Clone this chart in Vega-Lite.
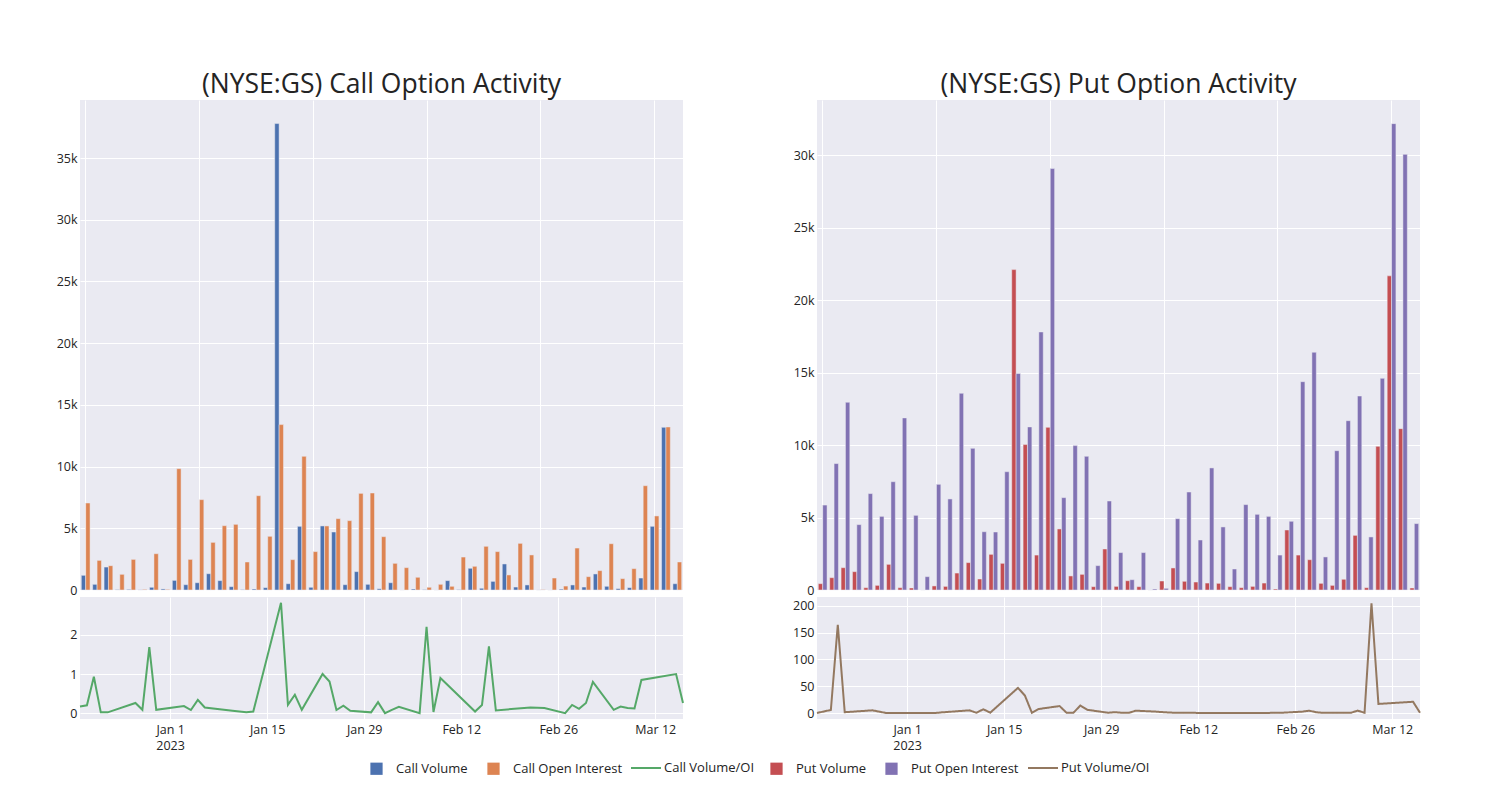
{
  "$schema": "https://vega.github.io/schema/vega-lite/v6.json",
  "background": "white",
  "padding": {"left": 56, "top": 71, "right": 5, "bottom": 5},
  "spacing": 105,
  "datasets": {
    "opt": [
      {"date":"2022-12-19","callVol":1190,"callOI":7050,"callRatio":0.17,"putVol":437,"putOI":5860,"putRatio":0},
      {"date":"2022-12-20","callVol":460,"callOI":2400,"callRatio":0.20,"putVol":850,"putOI":8720,"putRatio":3},
      {"date":"2022-12-21","callVol":1860,"callOI":1970,"callRatio":0.93,"putVol":1540,"putOI":12950,"putRatio":5.6},
      {"date":"2022-12-22","callVol":30,"callOI":1270,"callRatio":0.02,"putVol":1265,"putOI":4510,"putRatio":165},
      {"date":"2022-12-23","callVol":50,"callOI":2480,"callRatio":0.02,"putVol":160,"putOI":6650,"putRatio":1.5},
      {"date":"2022-12-27","callVol":12,"callOI":50,"callRatio":0.26,"putVol":320,"putOI":5080,"putRatio":5},
      {"date":"2022-12-28","callVol":220,"callOI":2940,"callRatio":0.085,"putVol":1770,"putOI":7470,"putRatio":2.5},
      {"date":"2022-12-29","callVol":85,"callOI":50,"callRatio":1.69,"putVol":160,"putOI":11870,"putRatio":0},
      {"date":"2022-12-30","callVol":780,"callOI":9830,"callRatio":0.085,"putVol":140,"putOI":5150,"putRatio":0},
      {"date":"2023-01-03","callVol":430,"callOI":2480,"callRatio":0.18,"putVol":0,"putOI":920,"putRatio":0},
      {"date":"2023-01-04","callVol":590,"callOI":7320,"callRatio":0.08,"putVol":280,"putOI":7290,"putRatio":0},
      {"date":"2023-01-05","callVol":1320,"callOI":3860,"callRatio":0.34,"putVol":250,"putOI":6280,"putRatio":0},
      {"date":"2023-01-06","callVol":760,"callOI":5210,"callRatio":0.145,"putVol":1170,"putOI":13570,"putRatio":1.2},
      {"date":"2023-01-10","callVol":270,"callOI":5320,"callRatio":0.06,"putVol":1890,"putOI":9770,"putRatio":5},
      {"date":"2023-01-11","callVol":30,"callOI":2270,"callRatio":0.04,"putVol":760,"putOI":4020,"putRatio":0.5},
      {"date":"2023-01-12","callVol":80,"callOI":7640,"callRatio":0.02,"putVol":2460,"putOI":4000,"putRatio":7},
      {"date":"2023-01-13","callVol":190,"callOI":4350,"callRatio":0.04,"putVol":1840,"putOI":8160,"putRatio":0.6},
      {"date":"2023-01-17","callVol":37790,"callOI":13400,"callRatio":2.82,"putVol":22100,"putOI":14930,"putRatio":47},
      {"date":"2023-01-18","callVol":510,"callOI":2460,"callRatio":0.21,"putVol":10030,"putOI":11250,"putRatio":32.5},
      {"date":"2023-01-19","callVol":5160,"callOI":10830,"callRatio":0.47,"putVol":2410,"putOI":17800,"putRatio":0.5},
      {"date":"2023-01-20","callVol":220,"callOI":3110,"callRatio":0.085,"putVol":11220,"putOI":29070,"putRatio":7.5},
      {"date":"2023-01-23","callVol":5190,"callOI":5190,"callRatio":1.0,"putVol":4210,"putOI":6370,"putRatio":13},
      {"date":"2023-01-24","callVol":4700,"callOI":5780,"callRatio":0.81,"putVol":970,"putOI":9960,"putRatio":0.5},
      {"date":"2023-01-25","callVol":430,"callOI":5620,"callRatio":0.08,"putVol":1080,"putOI":9220,"putRatio":0.5},
      {"date":"2023-01-26","callVol":1490,"callOI":7830,"callRatio":0.19,"putVol":230,"putOI":1680,"putRatio":14},
      {"date":"2023-01-27","callVol":460,"callOI":7860,"callRatio":0.06,"putVol":2830,"putOI":6140,"putRatio":6},
      {"date":"2023-01-30","callVol":100,"callOI":4320,"callRatio":0.02,"putVol":250,"putOI":2580,"putRatio":0.5},
      {"date":"2023-01-31","callVol":590,"callOI":2160,"callRatio":0.28,"putVol":640,"putOI":710,"putRatio":1.5},
      {"date":"2023-02-01","callVol":0,"callOI":1810,"callRatio":0.0,"putVol":230,"putOI":2580,"putRatio":0.5},
      {"date":"2023-02-02","callVol":80,"callOI":1030,"callRatio":0.085,"putVol":0,"putOI":70,"putRatio":0.3},
      {"date":"2023-02-03","callVol":30,"callOI":220,"callRatio":0.16,"putVol":620,"putOI":115,"putRatio":4.4},
      {"date":"2023-02-06","callVol":0,"callOI":460,"callRatio":0.0,"putVol":1520,"putOI":4920,"putRatio":2.5},
      {"date":"2023-02-07","callVol":760,"callOI":300,"callRatio":2.21,"putVol":600,"putOI":6760,"putRatio":1.5},
      {"date":"2023-02-08","callVol":30,"callOI":2670,"callRatio":0.03,"putVol":550,"putOI":3450,"putRatio":0.8},
      {"date":"2023-02-09","callVol":1760,"callOI":1920,"callRatio":0.9,"putVol":480,"putOI":8420,"putRatio":0.3},
      {"date":"2023-02-14","callVol":140,"callOI":3540,"callRatio":0.04,"putVol":460,"putOI":4350,"putRatio":0.2},
      {"date":"2023-02-15","callVol":700,"callOI":3110,"callRatio":0.21,"putVol":230,"putOI":1450,"putRatio":0.2},
      {"date":"2023-02-16","callVol":2110,"callOI":1220,"callRatio":1.71,"putVol":160,"putOI":5890,"putRatio":0.2},
      {"date":"2023-02-17","callVol":240,"callOI":3780,"callRatio":0.07,"putVol":250,"putOI":5220,"putRatio":0.2},
      {"date":"2023-02-22","callVol":410,"callOI":2840,"callRatio":0.145,"putVol":480,"putOI":5080,"putRatio":0.2},
      {"date":"2023-02-24","callVol":4,"callOI":30,"callRatio":0.13,"putVol":70,"putOI":2410,"putRatio":0.5},
      {"date":"2023-02-27","callVol":0,"callOI":970,"callRatio":0.0,"putVol":4140,"putOI":4740,"putRatio":2.5},
      {"date":"2023-02-28","callVol":70,"callOI":320,"callRatio":0.21,"putVol":2410,"putOI":14370,"putRatio":4.4},
      {"date":"2023-03-01","callVol":410,"callOI":3400,"callRatio":0.11,"putVol":2090,"putOI":16400,"putRatio":1.5},
      {"date":"2023-03-02","callVol":240,"callOI":1080,"callRatio":0.26,"putVol":460,"putOI":2280,"putRatio":0.3},
      {"date":"2023-03-03","callVol":1300,"callOI":1570,"callRatio":0.8,"putVol":320,"putOI":9610,"putRatio":0.3},
      {"date":"2023-03-06","callVol":300,"callOI":3750,"callRatio":0.085,"putVol":740,"putOI":11680,"putRatio":0.3},
      {"date":"2023-03-07","callVol":110,"callOI":920,"callRatio":0.17,"putVol":3770,"putOI":13380,"putRatio":4.4},
      {"date":"2023-03-08","callVol":190,"callOI":1730,"callRatio":0.13,"putVol":160,"putOI":3660,"putRatio":0.5},
      {"date":"2023-03-09","callVol":970,"callOI":8450,"callRatio":0.12,"putVol":9910,"putOI":14600,"putRatio":205},
      {"date":"2023-03-10","callVol":5160,"callOI":6000,"callRatio":0.85,"putVol":21670,"putOI":32170,"putRatio":17},
      {"date":"2023-03-15","callVol":13180,"callOI":13210,"callRatio":1.0,"putVol":11130,"putOI":30050,"putRatio":21},
      {"date":"2023-03-16","callVol":510,"callOI":2270,"callRatio":0.26,"putVol":140,"putOI":4580,"putRatio":0.5}
    ]
  },
  "data": {"name": "opt"},
  "resolve": {"scale": {"x": "independent", "y": "independent", "xOffset": "independent"}},
  "hconcat": [
    {
      "vconcat": [
        {
          "title": {"text": "(NYSE:GS) Call Option Activity"},
          "width": 603, "height": 490,
          "transform": [{"fold": ["callVol", "callOI"], "as": ["key", "value"]}],
          "mark": {"type": "bar", "stroke": "#EAEAF2", "strokeWidth": 0.5},
          "encoding": {
            "x": {"field": "date", "type": "ordinal", "scale": {"paddingInner": 0.23, "paddingOuter": 0.115},
                  "axis": {"labels": false, "values": [1671408000000, 1672790400000, 1674172800000, 1675382400000, 1677196800000, 1678406400000], "bandPosition": 0.5, "grid": true}},
            "xOffset": {"field": "key", "type": "nominal", "sort": ["callVol", "callOI"], "scale": {"paddingInner": 0}},
            "y": {"field": "value", "type": "quantitative", "scale": {"domain": [0, 39700], "nice": false},
                  "axis": {"values": [0,5000,10000,15000,20000,25000,30000,35000], "labelExpr": "datum.value == 0 ? '0' : (datum.value / 1000) + 'k'"}},
            "fill": {"field": "key", "type": "nominal",
                     "scale": {"domain": ["callVol","callOI"], "range": ["#4C72B0","#DD8452"]},
                     "legend": {"orient": "none", "legendX": 290, "legendY": 662, "direction": "horizontal", "title": null,
                                "symbolType": "square", "symbolSize": 150, "symbolStrokeWidth": 0, "labelOffset": 13, "columnPadding": 19,
                                "labelExpr": "datum.label == 'callVol' ? 'Call Volume' : 'Call Open Interest'"}}
          }
        },
        {
          "width": 603, "height": 122,
          "mark": {"type": "line", "strokeWidth": 2},
          "encoding": {
            "x": {"field": "date", "type": "temporal",
                  "scale": {"type": "utc", "nice": false, "domain": [{"year": 2022, "month": 12, "date": 19, "utc": true}, {"year": 2023, "month": 3, "date": 16, "utc": true}]},
                  "axis": {"values": [{"year":2023,"month":1,"date":1,"utc":true},{"year":2023,"month":1,"date":15,"utc":true},{"year":2023,"month":1,"date":29,"utc":true},{"year":2023,"month":2,"date":12,"utc":true},{"year":2023,"month":2,"date":26,"utc":true},{"year":2023,"month":3,"date":12,"utc":true}],
                           "labelExpr": "utcmonth(datum.value) == 0 && utcdate(datum.value) == 1 ? ['Jan 1', '2023'] : utcFormat(datum.value, '%b %-d')",
                           "labelLineHeight": 16, "labelPadding": 4}},
            "y": {"field": "callRatio", "type": "quantitative", "scale": {"domain": [-0.15, 2.97], "nice": false, "zero": false},
                  "axis": {"values": [0, 1, 2]}},
            "stroke": {"datum": "callRatio", "type": "nominal",
                       "scale": {"domain": ["callRatio"], "range": ["#55A868"]},
                       "legend": {"orient": "none", "legendX": 550, "legendY": 652, "direction": "horizontal", "title": null,
                                  "symbolType": "stroke", "symbolSize": 900, "symbolStrokeWidth": 2, "labelOffset": 2,
                                  "labelExpr": "'Call Volume/OI'"}}
          }
        }
      ],
      "spacing": 7, "bounds": "flush",
      "resolve": {"scale": {"x": "independent", "y": "independent", "xOffset": "independent"}}
    },
    {
      "vconcat": [
        {
          "title": {"text": "(NYSE:GS) Put Option Activity"},
          "width": 603, "height": 490,
          "transform": [{"fold": ["putVol", "putOI"], "as": ["key", "value"]}],
          "mark": {"type": "bar", "stroke": "#EAEAF2", "strokeWidth": 0.5},
          "encoding": {
            "x": {"field": "date", "type": "ordinal", "scale": {"paddingInner": 0.23, "paddingOuter": 0.115},
                  "axis": {"labels": false, "values": [1671408000000, 1672790400000, 1674172800000, 1675382400000, 1677196800000, 1678406400000], "bandPosition": 0.5, "grid": true}},
            "xOffset": {"field": "key", "type": "nominal", "sort": ["putVol", "putOI"], "scale": {"paddingInner": 0}},
            "y": {"field": "value", "type": "quantitative", "scale": {"domain": [0, 33800], "nice": false},
                  "axis": {"values": [0,5000,10000,15000,20000,25000,30000], "labelExpr": "datum.value == 0 ? '0' : (datum.value / 1000) + 'k'"}},
            "color": {"field": "key", "type": "nominal",
                      "scale": {"domain": ["putVol","putOI"], "range": ["#C44E52","#8172B3"]},
                      "legend": {"orient": "none", "legendX": 690, "legendY": 662, "direction": "horizontal", "title": null,
                                 "symbolType": "square", "symbolSize": 150, "symbolStrokeWidth": 0, "labelOffset": 13, "columnPadding": 19,
                                 "labelExpr": "datum.label == 'putVol' ? 'Put Volume' : 'Put Open Interest'"}}
          }
        },
        {
          "width": 603, "height": 122,
          "mark": {"type": "line", "strokeWidth": 2, "color": "#937860"},
          "encoding": {
            "x": {"field": "date", "type": "temporal",
                  "scale": {"type": "utc", "nice": false, "domain": [{"year": 2022, "month": 12, "date": 19, "utc": true}, {"year": 2023, "month": 3, "date": 16, "utc": true}]},
                  "axis": {"values": [{"year":2023,"month":1,"date":1,"utc":true},{"year":2023,"month":1,"date":15,"utc":true},{"year":2023,"month":1,"date":29,"utc":true},{"year":2023,"month":2,"date":12,"utc":true},{"year":2023,"month":2,"date":26,"utc":true},{"year":2023,"month":3,"date":12,"utc":true}],
                           "labelExpr": "utcmonth(datum.value) == 0 && utcdate(datum.value) == 1 ? ['Jan 1', '2023'] : utcFormat(datum.value, '%b %-d')",
                           "labelLineHeight": 16, "labelPadding": 4}},
            "y": {"field": "putRatio", "type": "quantitative", "scale": {"domain": [-11.2, 216.8], "nice": false, "zero": false},
                  "axis": {"values": [0, 50, 100, 150, 200]}},
            "strokeDash": {"datum": "putRatio", "type": "nominal",
                           "scale": {"domain": ["putRatio"], "range": [[1, 0]]},
                           "legend": {"orient": "none", "legendX": 947, "legendY": 652, "direction": "horizontal", "title": null,
                                      "symbolType": "stroke", "symbolSize": 900, "symbolStrokeWidth": 2, "symbolStrokeColor": "#937860", "labelOffset": 2,
                                      "labelExpr": "'Put Volume/OI'"}}
          }
        }
      ],
      "spacing": 7, "bounds": "flush",
      "resolve": {"scale": {"x": "independent", "y": "independent", "xOffset": "independent"}}
    }
  ],
  "config": {
    "font": "Open Sans",
    "view": {"fill": "#EAEAF2", "stroke": null},
    "axis": {"gridColor": "white", "gridWidth": 1, "domain": false, "ticks": false, "title": null,
             "labelFont": "Open Sans", "labelFontSize": 12.5, "labelColor": "#242424", "labelPadding": 3},
    "title": {"fontSize": 26.5, "font": "Open Sans", "fontWeight": "normal", "color": "#242424", "anchor": "middle", "baseline": "alphabetic", "offset": 2},
    "legend": {"labelFont": "Open Sans", "labelFontSize": 13, "labelColor": "#242424", "padding": 0}
  }
}
